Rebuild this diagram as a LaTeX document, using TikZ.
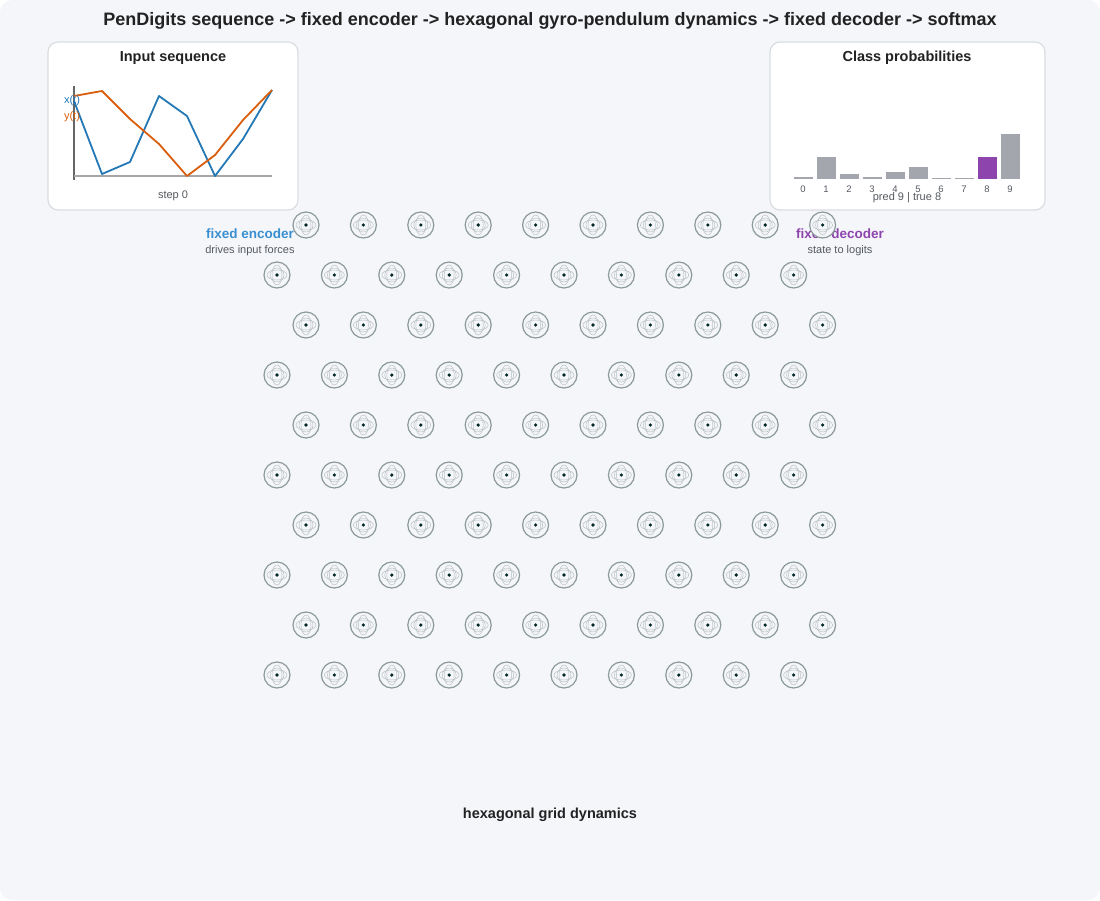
\documentclass[tikz,border=0pt]{standalone}
\usepackage{fontspec}
\setmainfont{Liberation Sans}
\definecolor{bg}{HTML}{F5F6FA}
\definecolor{pb}{HTML}{D9DCE1}
\definecolor{ng}{HTML}{8C9A9A}
\definecolor{enc}{HTML}{3A8FD0}
\definecolor{dec}{HTML}{8E44AD}
\definecolor{xb}{HTML}{2478B5}
\definecolor{yo}{HTML}{D95F0E}
\definecolor{bar}{HTML}{A3A7AD}
\definecolor{tx}{HTML}{222222}
\definecolor{sub}{HTML}{555A60}
\tikzset{
 panel/.style={draw=pb,line width=1.2pt,fill=white,rounded corners=10pt},
 osc/.pic={
  \fill[bg] (0,0) circle (13);
  \draw[ng,line width=1.2pt] (0,0) circle (13);
  \draw[ng!60,line width=0.5pt] (0,0) circle (7);
  \draw[ng!60,line width=0.5pt] (0,0) ellipse (10 and 5);
  \draw[ng!60,line width=0.5pt] (0,0) ellipse (5 and 10);
  \fill[black!70!teal] (0,0) circle (1.8);
 }
}
\begin{document}
\begin{tikzpicture}[x=1pt,y=-1pt,font=\fontsize{10}{12}\selectfont]
\fill[bg,rounded corners=12pt] (0,0) rectangle (1100,900);
\useasboundingbox (0,0) rectangle (1100,900);
\node[font=\fontsize{18}{20}\selectfont\bfseries,text=tx] (title) at (550,21) {PenDigits sequence -> fixed encoder -> hexagonal gyro-pendulum dynamics -> fixed decoder -> softmax};
% left panel
\draw[panel] (48,42) rectangle (298,210);
\node[font=\fontsize{14.5}{16}\selectfont\bfseries,text=tx] (lt) at (173,58) {Input sequence};
\draw[black!60,line width=1.2pt] (74,86) -- (74,180);
\draw[black!35,line width=1.2pt] (74,176) -- (272,176);
\draw[xb,line width=1.8pt,line join=round] (74,101)--(102,174)--(130,162)--(159,96)--(187,116)--(215,176)--(243,139)--(272,90);
\draw[yo,line width=1.8pt,line join=round] (74,96)--(102,91)--(130,119)--(159,144)--(187,176)--(215,155)--(243,120)--(272,90);
\node[text=xb,font=\fontsize{11}{12}\selectfont] (xl) at (72,101) {x(t)};
\node[text=yo,font=\fontsize{11}{12}\selectfont] (yl) at (72,117) {y(t)};
\node[text=sub,font=\fontsize{11}{12}\selectfont] (st) at (173,196) {step 0};
% right panel
\draw[panel] (770,42) rectangle (1045,210);
\node[font=\fontsize{14.5}{16}\selectfont\bfseries,text=tx] (rt) at (907,58) {Class probabilities};
\foreach \i/\t in {0/177,1/157,2/174,3/177,4/172,5/167,6/178,7/178,8/157,9/134}{
  \pgfmathsetmacro\cx{803+23*\i}
  \ifnum\i=8 \fill[dec] (\cx-9.5,\t) rectangle (\cx+9.5,178.5);
  \else \fill[bar] (\cx-9.5,\t) rectangle (\cx+9.5,178.5); \fi
  \node[text=sub,font=\fontsize{9.5}{10}\selectfont] (c\i) at (\cx,189) {\i};
}
\node[text=sub,font=\fontsize{11}{12}\selectfont] (pr) at (907,198) {pred 9 | true 8};
% labels
\node[text=enc,font=\fontsize{13.5}{15}\selectfont\bfseries] (enc) at (250,234) {fixed encoder};
\node[text=sub,font=\fontsize{11}{12}\selectfont] (encs) at (250,251) {drives input forces};
\node[text=dec,font=\fontsize{13.5}{15}\selectfont\bfseries] (dec) at (840,234) {fixed decoder};
\node[text=sub,font=\fontsize{11}{12}\selectfont] (decs) at (840,251) {state to logits};
% grid
\foreach \r in {0,...,9}{
  \pgfmathsetmacro\yy{225+50*\r}
  \pgfmathsetmacro\xo{mod(\r,2)==0 ? 306 : 277}
  \foreach \c in {0,...,9}{
    \pic at (\xo+57.4*\c,\yy) {osc};
  }
}
\node[font=\fontsize{14.5}{16}\selectfont\bfseries,text=tx] (hg) at (550,815) {hexagonal grid dynamics};
\end{tikzpicture}
\end{document}
